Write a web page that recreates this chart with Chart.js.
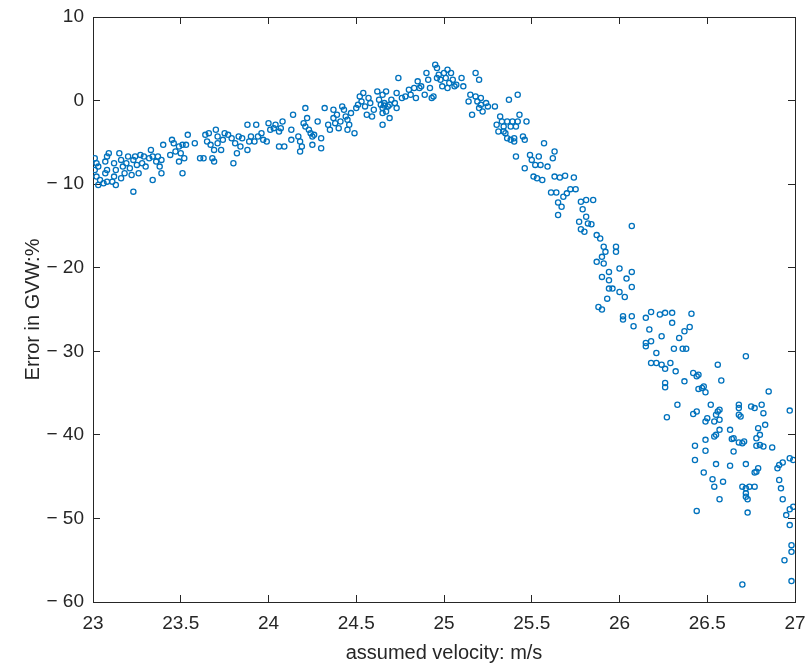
<!DOCTYPE html>
<html>
<head>
<meta charset="utf-8">
<title>Error in GVW vs assumed velocity</title>
<script src="https://cdn.jsdelivr.net/npm/chart.js@4.4.0/dist/chart.umd.min.js"></script>
<style>
  html, body { margin: 0; padding: 0; background: #fff; }
  #chart { display: block; }
</style>
</head>
<body>
<canvas id="chart" width="809" height="666"></canvas>
<script>
// tick values
const xTicks = [23, 23.5, 24, 24.5, 25, 25.5, 26, 26.5, 27];
const yTicks = [-60, -50, -40, -30, -20, -10, 0, 10];

// [velocity m/s, error %], left to right
const riseLow = [
  [23.01,-6.9],[23.02,-7.5],[23.03,-7.9],[23.01,-8.3],[23.02,-9.1],[23.04,-9.5],[23.03,-10.1],[23.06,-9.9],[23.08,-9.7],[23.07,-8.7],
  [23.08,-8.3],[23.07,-7.3],[23.08,-6.7],[23.09,-6.3],[23.12,-7.5],[23.13,-8.3],[23.12,-9.1],[23.11,-9.7],[23.13,-10.1],[23.15,-6.3],
  [23.16,-7.1],[23.17,-7.9],[23.18,-8.7],[23.16,-9.3],[23.19,-7.5],[23.20,-6.7],[23.21,-8.1],[23.22,-8.9],[23.23,-7.1],[23.24,-6.7],
  [23.25,-7.7],[23.26,-8.7],[23.27,-6.5],[23.29,-6.7],[23.28,-7.5],[23.30,-7.9],[23.33,-5.9],[23.32,-6.9],[23.34,-6.7],[23.34,-9.5],
  [23.36,-7.3],[23.37,-6.7],[23.38,-7.9],[23.39,-8.7],[23.40,-5.3],[23.39,-7.1],[23.45,-4.7],[23.46,-5.1],[23.44,-6.5],[23.47,-6.1],
  [23.49,-5.5],[23.50,-6.3],[23.51,-5.3],[23.49,-7.3],[23.51,-8.7],[23.52,-6.9],[23.53,-5.3],[23.54,-4.1],[23.23,-10.9]
];
const riseMid = [
  [23.58,-5.1],[23.61,-6.9],[23.63,-6.9],[23.64,-4.1],[23.65,-4.9],[23.66,-3.9],[23.67,-5.3],[23.68,-6.9],[23.69,-7.3],[23.69,-5.9],
  [23.70,-3.5],[23.71,-4.3],[23.71,-5.1],[23.73,-5.9],[23.74,-4.7],[23.75,-3.9],[23.77,-4.1],[23.79,-4.5],[23.80,-7.5],[23.81,-5.1],
  [23.82,-6.3],[23.83,-4.3],[23.85,-4.5],[23.84,-5.5],[23.88,-2.9],[23.88,-5.9],[23.89,-4.9],[23.90,-4.3],[23.92,-4.9],[23.93,-2.9],
  [23.94,-4.3],[23.96,-3.9],[23.97,-4.7],[23.99,-4.9],[24.00,-2.7],[24.01,-3.5],[24.03,-3.3],[24.04,-2.9],[24.06,-3.7],[24.07,-3.3],
  [24.08,-2.5],[24.06,-5.5],[24.09,-5.5],[24.13,-3.5],[24.13,-4.7],[24.14,-1.7]
];
const riseHigh = [
  [24.17,-4.3],[24.18,-4.9],[24.19,-5.5],[24.18,-6.1],[24.20,-2.7],[24.21,-0.9],[24.21,-3.1],[24.22,-2.1],[24.23,-3.5],[24.24,-3.9],
  [24.25,-4.3],[24.25,-5.3],[24.26,-4.1],[24.28,-2.5],[24.30,-4.5],[24.30,-5.7],[24.32,-0.9],[24.34,-2.9],[24.35,-3.5],[24.37,-1.1],
  [24.37,-2.1],[24.38,-2.7],[24.39,-1.7],[24.40,-3.3],[24.41,-2.5],[24.42,-0.7],[24.43,-1.1],[24.44,-1.9],[24.45,-2.3],[24.45,-3.5],
  [24.46,-2.9],[24.47,-1.5],[24.49,-3.9],[24.50,-0.9],[24.51,-0.5],[24.52,0.5],[24.53,-0.1],[24.54,0.9],[24.55,-0.7],[24.56,-1.7],
  [24.57,0.3],[24.58,-0.3],[24.59,-1.9],[24.60,-1.1],[24.62,1.1],[24.63,0.1],[24.64,-0.5],[24.65,-1.5],[24.65,-0.9],[24.65,0.7],
  [24.66,-0.3],[24.67,1.1],[24.68,-0.7],[24.69,-2.1],[24.65,-2.9],[24.70,0.1],[24.72,-0.3],[24.73,0.9],[24.73,-0.9],[24.74,2.7],
  [24.66,-0.6],[24.67,-1.3],[24.69,-0.5]
];
const peak = [
  [24.76,0.3],[24.78,0.5],[24.80,1.3],[24.81,0.7],[24.83,1.5],[24.84,0.3],[24.85,2.3],[24.86,1.5],[24.87,1.7],[24.89,0.7],
  [24.90,3.3],[24.91,2.5],[24.92,1.5],[24.93,0.3],[24.94,0.5],[24.95,4.3],[24.96,3.9],[24.96,2.7],[24.97,3.1],[24.98,2.5],
  [24.99,1.7],[25.00,3.3],[25.01,2.7],[25.02,3.7],[25.02,1.5],[25.03,2.1],[25.04,3.3],[25.05,2.5],[25.06,1.7],[25.07,1.9],
  [25.10,2.7],[25.11,1.7],[25.18,3.3],[25.20,2.5],[25.15,0.7],[25.14,-0.1],[25.16,-1.7],[25.18,0.5],[25.19,-0.1],[25.20,-0.9],
  [25.21,0.3],[25.21,-0.5],[25.22,-1.3],[25.24,-0.3],[25.25,-0.7],[25.29,-0.7],[25.30,-2.9],[25.32,-1.9],[25.33,-2.5],[25.34,-3.1],
  [25.31,-3.7],[25.34,-3.7]
];
const fallUpper = [
  [25.37,0.1],[25.42,0.7],[25.36,-2.5],[25.38,-3.1],[25.39,-2.5],[25.43,-1.7],[25.42,-2.5],[25.41,-3.1],[25.47,-2.5],[25.35,-3.9],
  [25.36,-4.5],[25.38,-4.7],[25.40,-4.9],[25.40,-4.5],[25.45,-4.3],[25.46,-4.7],[25.57,-5.1],[25.41,-6.7],[25.49,-6.5],[25.50,-7.1],
  [25.52,-7.7],[25.54,-6.7],[25.55,-7.7],[25.46,-8.1],[25.51,-9.1],[25.53,-9.3],[25.56,-9.5],[25.59,-7.9],[25.62,-6.9],[25.63,-6.1],
  [25.63,-9.1],[25.66,-9.2],[25.69,-9.0],[25.74,-9.2],[25.61,-11.0],[25.64,-11.0],[25.68,-11.5],[25.70,-11.1],[25.72,-10.6],[25.75,-10.6],
  [25.65,-12.2],[25.67,-12.7],[25.65,-13.7],[25.78,-12.1],[25.81,-11.9],[25.85,-11.9],[25.79,-13.0],[25.81,-13.9],[25.77,-14.5],[25.82,-14.7],
  [25.84,-14.8],[25.78,-15.4],[25.80,-15.7],[25.87,-16.1],[25.89,-16.5],[25.91,-17.5],[25.92,-18.1],[25.90,-18.7],[25.87,-19.3],[25.91,-19.5]
];
const fallMid = [
  [25.98,-17.5],[25.98,-18.1],[26.07,-15.0],[25.90,-21.1],[25.94,-20.5],[26.00,-20.1],[26.07,-20.5],[25.94,-21.5],[26.04,-21.3],[25.94,-22.5],
  [25.96,-22.5],[26.00,-22.9],[26.03,-23.5],[26.07,-22.3],[25.93,-23.7],[25.88,-24.7],[25.90,-25.0],[26.02,-25.8],[26.02,-26.2],[26.07,-25.8],
  [26.08,-27.0],[26.15,-26.0],[26.18,-25.3],[26.23,-25.6],[26.26,-25.4],[26.30,-25.4],[26.30,-26.6],[26.17,-27.4],[26.24,-28.2],[26.15,-29.0],
  [26.15,-29.4],[26.18,-28.8],[26.21,-30.2],[26.18,-31.4],[26.21,-31.4],[26.24,-31.6],[26.26,-32.1],[26.31,-29.7],[26.29,-31.4],[26.32,-32.4],
  [26.26,-33.8],[26.26,-34.3],[26.33,-36.4],
  [26.41,-25.5],[26.40,-27.1],[26.37,-27.6],[26.34,-28.4],[26.36,-29.7],[26.38,-29.7],[26.37,-33.6],[26.27,-37.9]
];
const fallTail = [
  [26.56,-31.6],[26.58,-33.5],[26.72,-30.6],[26.42,-32.6],[26.44,-33.0],[26.45,-32.8],[26.45,-34.5],[26.47,-34.4],[26.49,-34.9],[26.48,-34.2],
  [26.52,-36.4],[26.56,-37.2],[26.57,-37.0],[26.55,-37.6],[26.50,-38.0],[26.49,-38.4],[26.54,-38.4],[26.57,-38.2],[26.42,-37.5],[26.44,-37.2],
  [26.43,-41.3],[26.49,-40.6],[26.49,-41.9],[26.43,-43.0],[26.48,-44.5],[26.55,-43.5],[26.55,-40.0],[26.54,-40.2],[26.57,-39.4],[26.63,-39.4],
  [26.65,-40.4],[26.64,-40.5],[26.65,-42.0],[26.63,-43.7],[26.68,-36.4],[26.68,-36.8],[26.68,-37.6],[26.69,-37.8],[26.75,-36.6],[26.77,-36.8],
  [26.81,-36.4],[26.82,-37.4],[26.85,-34.8],[26.79,-39.2],[26.83,-38.8],[26.80,-40.0],[26.78,-40.4],[26.80,-41.2],[26.82,-41.4],[26.78,-41.3],
  [26.87,-41.5],[26.68,-40.9],[26.70,-41.0],[26.71,-40.8],[26.72,-43.5],[26.77,-44.5],[26.78,-44.4],[26.79,-44.0],[26.53,-45.3],[26.54,-46.2],
  [26.59,-45.6],[26.57,-47.7],[26.70,-46.2],[26.72,-46.4],[26.74,-46.2],[26.77,-46.2],[26.72,-47.0],[26.72,-47.4],[26.73,-47.7],[26.44,-49.1],
  [26.73,-49.3],[26.90,-44.0],[26.91,-43.6],[26.93,-43.3],[26.97,-42.8],[26.99,-43.0],[26.91,-45.4],[26.92,-46.4],[26.93,-47.7],[26.97,-48.9],
  [26.99,-48.6],[26.95,-49.6],[26.97,-50.8],[26.98,-53.2],[26.98,-54.0],[26.94,-55.0],[26.98,-57.5],[26.70,-57.9],[26.97,-37.1]
];

const allPoints = [].concat(riseLow, riseMid, riseHigh, peak, fallUpper, fallMid, fallTail)
  .map(p => ({ x: p[0], y: p[1] }));

const axisColor = '#262626';
const fontFamily = "'Liberation Sans', Arial, sans-serif";

// keep the plot box where the reference has it
function noPad(s) {
  s.paddingLeft = 0; s.paddingRight = 0; s.paddingTop = 0; s.paddingBottom = 0;
}

function boxAxis(position, min, max, values) {
  // unlabelled axis that closes the box, ticks pointing inwards
  return {
    type: 'linear', position: position, min: min, max: max,
    ticks: { display: false },
    grid: { drawOnChartArea: false, tickLength: -7, color: axisColor },
    border: { color: axisColor, width: 1 },
    afterBuildTicks: s => { s.ticks = values.map(v => ({ value: v })); },
    afterFit: s => {
      if (position === 'top') s.height = 0; else s.width = 0;
      noPad(s);
    }
  };
}

new Chart(document.getElementById('chart'), {
  type: 'scatter',
  data: {
    datasets: [{
      data: allPoints,
      pointStyle: 'circle',
      pointRadius: 2.6,
      pointBorderWidth: 1.3,
      borderColor: '#0072BD',
      backgroundColor: 'rgba(0,0,0,0)'
    }]
  },
  options: {
    responsive: false,
    animation: false,
    layout: { padding: { top: 17, right: 14, left: 0, bottom: 0 } },
    plugins: { legend: { display: false }, tooltip: { enabled: false } },
    scales: {
      x: {
        type: 'linear', position: 'bottom', min: 23, max: 27,
        afterBuildTicks: s => { s.ticks = xTicks.map(v => ({ value: v })); },
        afterFit: s => { s.height = 64; noPad(s); },
        ticks: { color: axisColor, padding: 17, font: { family: fontFamily, size: 19 },
                 maxRotation: 0, autoSkip: false, callback: v => String(v) },
        grid: { drawOnChartArea: false, tickLength: -7, color: axisColor },
        border: { color: axisColor, width: 1 },
        title: { display: true, text: 'assumed velocity: m/s', color: axisColor,
                 padding: { top: 0, bottom: 1 }, font: { family: fontFamily, size: 20 } }
      },
      y: {
        type: 'linear', position: 'left', min: -60, max: 10,
        afterBuildTicks: s => { s.ticks = yTicks.map(v => ({ value: v })); },
        afterFit: s => { s.width = 93; noPad(s); },
        ticks: { color: axisColor, padding: 16, font: { family: fontFamily, size: 19 },
                 autoSkip: false, callback: v => String(v).replace('-', '\u2212 ') },
        grid: { drawOnChartArea: false, tickLength: -7, color: axisColor },
        border: { color: axisColor, width: 1 },
        title: { display: true, text: 'Error in GVW:%', color: axisColor,
                 padding: { top: 21, bottom: 0 }, font: { family: fontFamily, size: 20 } }
      },
      xTop: boxAxis('top', 23, 27, xTicks),
      yRight: boxAxis('right', -60, 10, yTicks)
    }
  }
});
</script>
</body>
</html>
